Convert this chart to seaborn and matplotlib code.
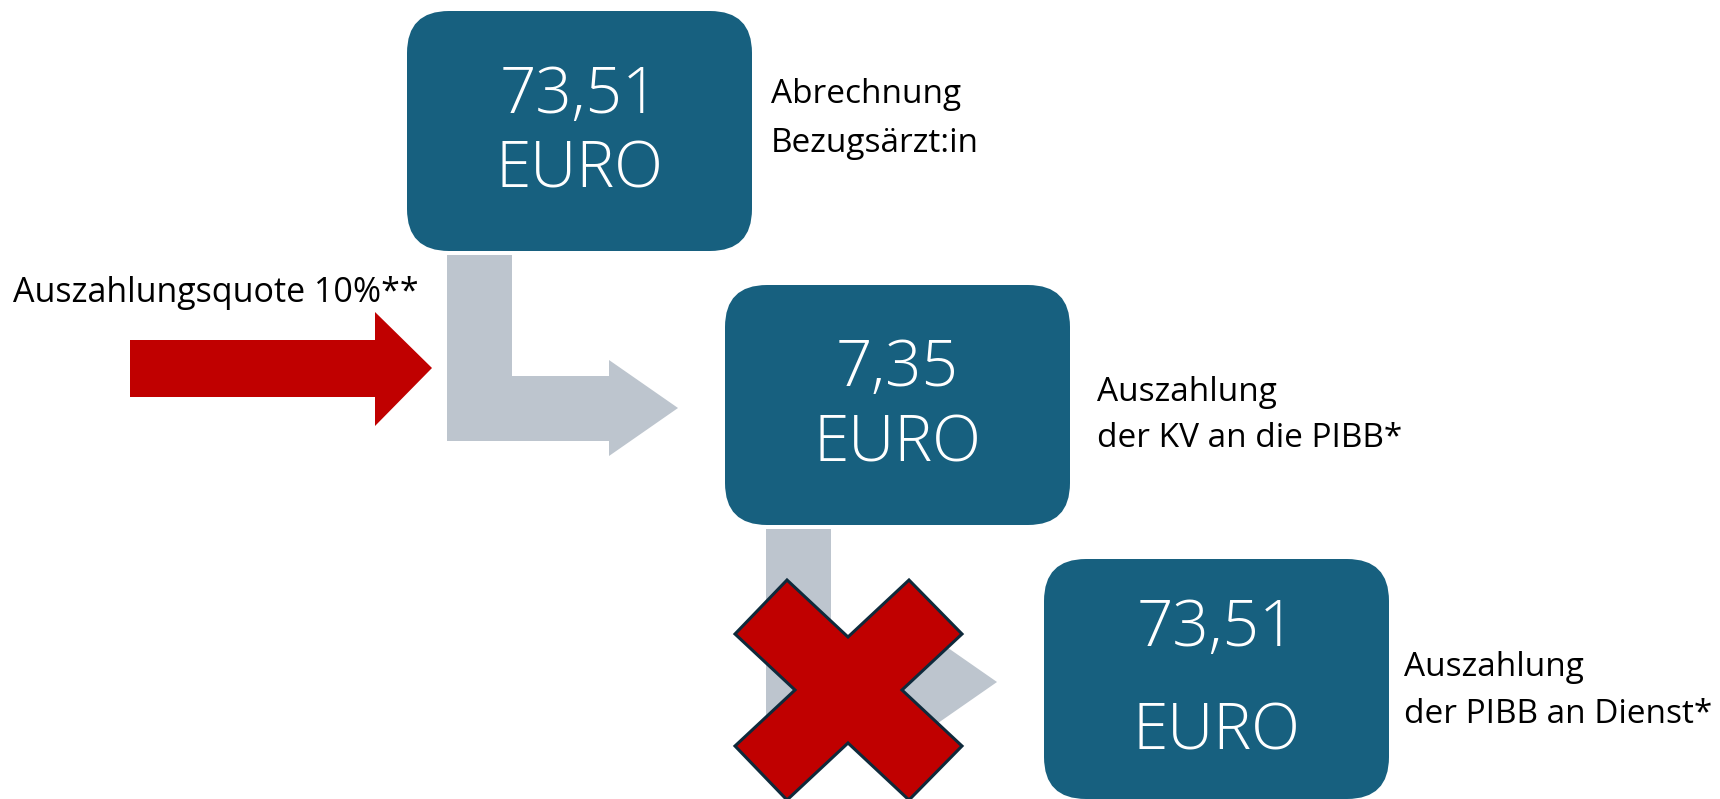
import matplotlib
matplotlib.use("Agg")
import matplotlib.pyplot as plt
from matplotlib.patches import FancyBboxPatch, Polygon
import seaborn as sns

# ---- content ----
amounts = ["73,51", "7,35", "73,51"]
unit = "EURO"
step_line1 = ["Abrechnung", "Auszahlung", "Auszahlung"]
step_line2 = ["Bezugsärzt:in", "der KV an die PIBB*", "der PIBB an Dienst*"]
quota_label = "Auszahlungsquote 10%**"

# ---- layout (pixel-like data coordinates, y downwards) ----
W, H = 1720, 799
box_x = [407, 725, 1044]
box_y = [11, 285, 559]
box_w, box_h = 345, 240
amount_base = [113, 386, 646]
unit_base = [188, 461, 750]
lab_x = [771, 1097, 1404]
lab_base1 = [103, 401, 676]
lab_base2 = [152, 447, 723]
arrow_origin = [(447, 255), (766, 529)]

BLUE = "#17607F"
GRAY = "#BDC5CE"
RED = "#C00000"
NAVY = "#0E2A3B"

sns.set_theme(style="white")
plt.rcParams["font.family"] = ["Open Sans", "DejaVu Sans"]

fig = plt.figure(figsize=(W / 100, H / 100), dpi=100)
ax = fig.add_axes([0, 0, 1, 1])
ax.set_xlim(0, W)
ax.set_ylim(H, 0)
ax.axis("off")

# grey L-shaped arrows
L_shape = [(0, 0), (65, 0), (65, 121), (162, 121), (162, 105), (231, 153),
           (162, 201), (162, 186), (0, 186)]
for (x0, y0) in arrow_origin:
    ax.add_patch(Polygon([(x0 + dx, y0 + dy) for dx, dy in L_shape],
                         closed=True, facecolor=GRAY, edgecolor="none", zorder=1))

# red arrow
red_arrow = [(130, 340), (375, 340), (375, 312), (432, 368), (375, 426),
             (375, 397), (130, 397)]
ax.add_patch(Polygon(red_arrow, closed=True, facecolor=RED, edgecolor="none", zorder=2))
ax.text(13, 302, quota_label, fontsize=24.5, color="black", va="baseline", ha="left")

# boxes
for i, amt in enumerate(amounts):
    ax.add_patch(FancyBboxPatch((box_x[i], box_y[i]), box_w, box_h,
                                boxstyle="round,pad=0,rounding_size=42",
                                facecolor=BLUE, edgecolor="none", zorder=3))
    cx = box_x[i] + box_w / 2
    ax.text(cx, amount_base[i], amt, fontsize=46, color="white",
            fontweight="light", ha="center", va="baseline", zorder=4)
    ax.text(cx, unit_base[i], unit, fontsize=46, color="white",
            fontweight="light", ha="center", va="baseline", zorder=4)
    ax.text(lab_x[i], lab_base1[i], step_line1[i], fontsize=24, color="black",
            ha="left", va="baseline", zorder=4)
    ax.text(lab_x[i], lab_base2[i], step_line2[i], fontsize=24, color="black",
            ha="left", va="baseline", zorder=4)

# red cross
cx, cy = 848, 690
cross = [(-61, -110), (0, -53), (61, -110), (114, -56), (54, 0), (114, 56),
         (61, 110), (0, 53), (-61, 110), (-113, 56), (-53, 0), (-113, -56)]
ax.add_patch(Polygon([(cx + dx, cy + dy) for dx, dy in cross], closed=True,
                     facecolor=RED, edgecolor=NAVY, linewidth=2.2,
                     joinstyle="miter", zorder=5))

fig.savefig("out.png", dpi=100)
